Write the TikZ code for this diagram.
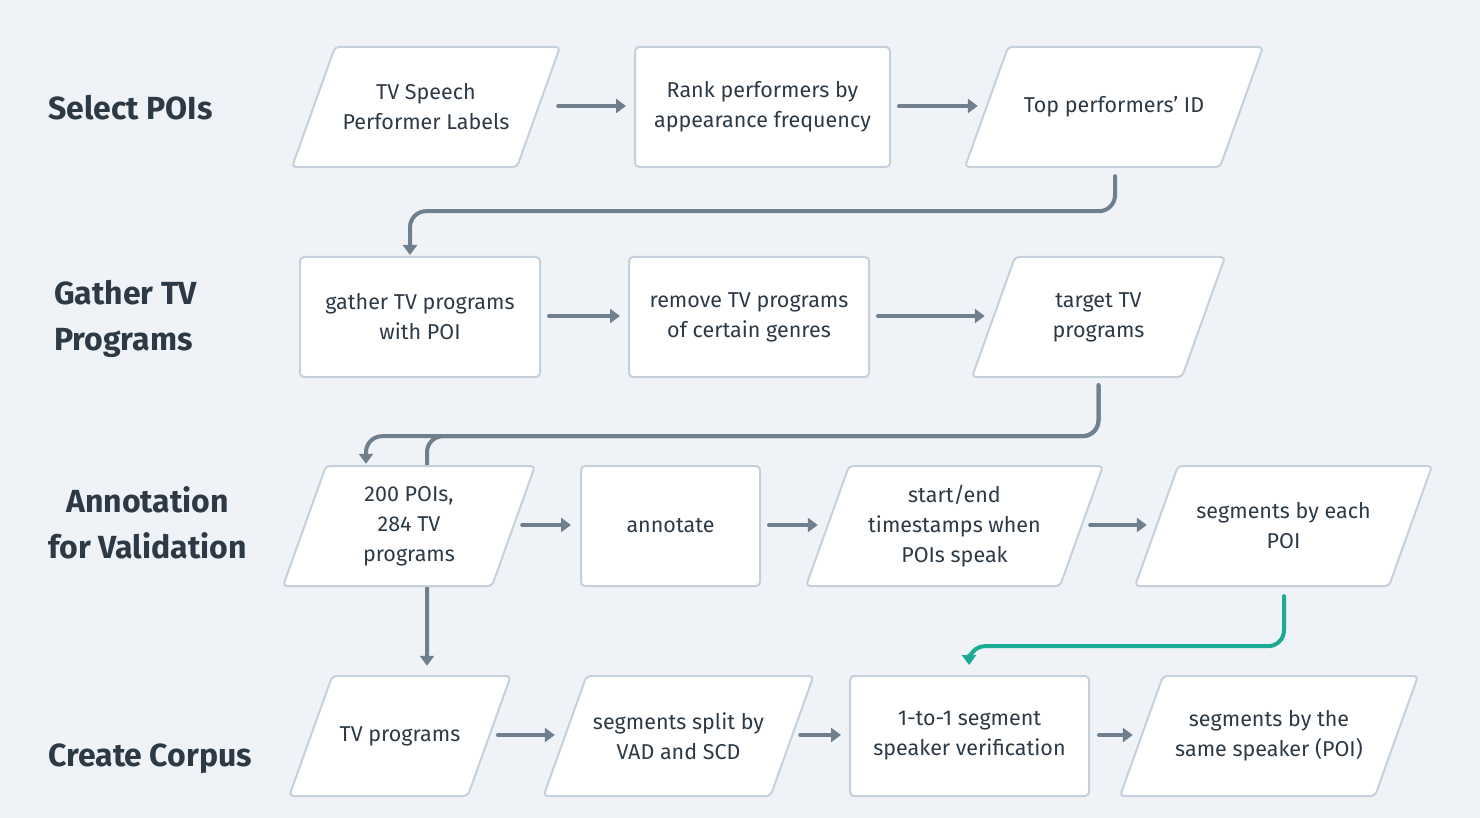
\documentclass[tikz,border=0pt]{standalone}
\usepackage{fontspec}
\setmainfont{Fira Sans}
\usetikzlibrary{arrows.meta,calc}
\definecolor{bgc}{HTML}{EFF3F7}
\definecolor{boxc}{HTML}{C5D0DB}
\definecolor{arrc}{HTML}{6F7F8E}
\definecolor{tealc}{HTML}{1BAA94}
\definecolor{txtc}{HTML}{2D3A46}
\pgfdeclarelayer{bglayer}
\pgfdeclarelayer{connlayer}
\pgfsetlayers{bglayer,connlayer,main}
\newcommand\parabox[5]{%
  \draw[parastyle] ({#2-#4/2+21.5},{#3-60}) -- ({#2+#4/2+21.5},{#3-60}) -- ({#2+#4/2-21.5},{#3+60}) -- ({#2-#4/2-21.5},{#3+60}) -- cycle;
  \node[txt, minimum width=#4] (#1) at (#2,#3) {#5};
}
\tikzset{
  txt/.style={font=\fontsize{21.5}{30}\selectfont, text=txtc, align=center, inner sep=0pt, minimum height=120},
  rectbox/.style={txt, draw=boxc, line width=2pt, fill=white, rounded corners=4pt, minimum width=#1},
  parastyle/.style={draw=boxc, line width=2pt, fill=white, rounded corners=4pt},
  lbl/.style={font=\fontsize{32}{46}\selectfont\bfseries, text=txtc, inner sep=0pt},
  arr/.style={draw=arrc, line width=4pt, line cap=round, -{Triangle[width=14pt,length=10pt]}},
  tarr/.style={arr, draw=tealc, color=tealc},
}
\begin{document}
\begin{tikzpicture}[x=1pt,y=-1pt]
\begin{pgfonlayer}{bglayer}
\fill[bgc] (0,0) rectangle (1480,818);
\end{pgfonlayer}
\useasboundingbox (0,0) rectangle (1480,818);

% labels
\node[lbl, anchor=base west] (l1) at (48,120) {Select POIs};
\node[lbl, anchor=base west, align=left] (l2) at (54,350) {Gather TV\\Programs};
\node[lbl, anchor=base, align=center] (l3) at (147.5,558) {Annotation\\for Validation};
\node[lbl, anchor=base west] (l4) at (48,766) {Create Corpus};

% row 1
\parabox{n11}{426}{107}{225}{TV Speech\\Performer Labels}
\node[rectbox=255] (n12) at (762.5,107) {Rank performers by\\appearance frequency};
\parabox{n13}{1114}{107}{255}{Top performers' ID}

% row 2
\node[rectbox=240] (n21) at (420,317) {gather TV programs\\with POI};
\node[rectbox=240] (n22) at (749,317) {remove TV programs\\of certain genres};
\parabox{n23}{1098.5}{317}{210}{target TV\\programs}

% row 3
\parabox{n31}{409}{526}{209}{200 POIs,\\284 TV\\programs}
\node[rectbox=179] (n32) at (670.5,526) {annotate};
\parabox{n33}{954.5}{526}{254}{start/end\\timestamps when\\POIs speak}
\parabox{n34}{1283.5}{526}{254}{segments by each\\POI}

% row 4
\parabox{n41}{400}{736}{178.5}{TV programs}
\parabox{n42}{678.5}{736}{227}{segments split by\\VAD and SCD}
\node[rectbox=239] (n43) at (969.5,736) {1-to-1 segment\\speaker verification};
\parabox{n44}{1269}{736}{255}{segments by the\\same speaker (POI)}

% connectors
\draw[arr] ($(n11.east)+(19.5,-1)$) -- ($(n12.west)+(-8,-1)$);
\draw[arr] ($(n12.east)+(8,-1)$) -- ($(n13.west)+(-8.5,-1)$);
\draw[arr, rounded corners=16pt] ($(n13.south)+(1,9)$) -- ++(0,35) -| ($(n21.north)+(-10,-1)$);

\draw[arr] ($(n21.east)+(8,-1)$) -- ($(n22.west)+(-8,-1)$);
\draw[arr] ($(n22.east)+(8,-1)$) -- ($(n23.west)+(-8.5,-1)$);
\begin{pgfonlayer}{connlayer}
\draw[arr, rounded corners=16pt] ($(n23.south)+(0,8)$) -- ++(0,51) -| ($(n31.north)+(-43,-2)$);
\draw[arr, rounded corners=16pt] ($(n23.south)+(0,8)$) -- ++(0,51) -| ($(n41.north)+(27,-10)$);
\end{pgfonlayer}

\draw[arr] ($(n31.east)+(8.5,-1)$) -- ($(n32.west)+(-9,-1)$);
\draw[arr] ($(n32.east)+(8,-1)$) -- ($(n33.west)+(-9.5,-1)$);
\draw[arr] ($(n33.east)+(8.5,-1)$) -- ($(n34.west)+(-9.5,-1)$);
\draw[tarr, rounded corners=16pt] ($(n34.south)+(0.5,10)$) -- ++(0,50) -| ($(n43.north)+(-0.5,-10)$);

\draw[arr] ($(n41.east)+(8.5,-1)$) -- ($(n42.west)+(-10,-1)$);
\draw[arr] ($(n42.east)+(8,-1)$) -- ($(n43.west)+(-8,-1)$);
\draw[arr] ($(n43.east)+(9,-1)$) -- ($(n44.west)+(-8.5,-1)$);
\end{tikzpicture}
\end{document}
